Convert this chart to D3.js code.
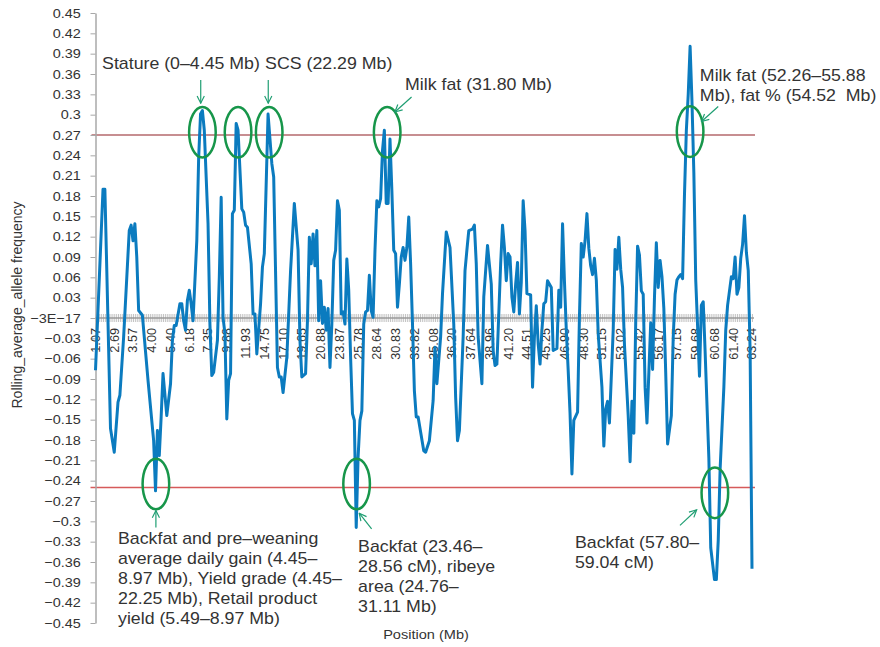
<!DOCTYPE html>
<html lang="en">
<head>
<meta charset="UTF-8">
<title>Rolling average allele frequency</title>
<script src="https://cdn.jsdelivr.net/npm/d3@7"></script>
<style>
    body { margin: 0; background: #fff; }
    svg { display: block; font-family: "Liberation Sans", Arial, Helvetica, sans-serif; }
    text { fill: #333; }
</style>
</head>
<body>
<svg width="880" height="647"></svg>
<script>
// category axis: one tick per window, one label every 10 windows
const categoryCount = 351;
const labelEvery = 10;
const tickLabels = ["1.07", "2.69", "3.57", "4.00", "5.40", "6.18", "7.35", "9.88", "11.93", "14.75",
    "17.10", "19.65", "20.88", "23.87", "25.78", "28.64", "30.83", "33.82", "35.08", "36.20",
    "37.64", "38.96", "41.20", "44.51", "45.25", "46.90", "48.30", "51.15", "53.02", "55.42",
    "56.17", "57.15", "59.68", "60.68", "61.40", "63.24"];

const yTickLabels = ["0.45", "0.42", "0.39", "0.36", "0.33", "0.3", "0.27", "0.24", "0.21", "0.18",
    "0.15", "0.12", "0.09", "0.06", "0.03", "−3E−17", "−0.03", "−0.06", "−0.09", "−0.12",
    "−0.15", "−0.18", "−0.21", "−0.24", "−0.27", "−0.3", "−0.33", "−0.36", "−0.39", "−0.42", "−0.45"];

// line vertices: category index and rolling average allele frequency
const pointIdx = [0, 4, 5, 8, 10, 12, 13, 15, 18, 19, 20, 21, 22, 23, 25, 28, 31, 32, 33, 34, 35, 36, 38, 40, 41, 42, 43, 45, 46, 47, 48, 49, 50, 51, 52, 54, 55, 56, 57, 58, 60, 61, 62, 63, 65, 66, 67, 68, 69, 70, 71, 72, 73, 74, 75, 76, 78, 79, 80, 81, 83, 84, 85, 86, 88, 89, 90, 92, 94, 95, 97, 98, 99, 100, 102, 104, 106, 108, 109, 110, 112, 113,
    114, 115, 116, 117, 118, 119, 120, 121, 122, 123, 124, 125, 126, 127, 128, 129, 130, 131, 132, 133, 134, 135, 136, 137, 138, 139, 140, 141, 142, 143, 144, 145, 146, 147, 148, 149, 150, 151, 152, 153, 154, 155, 156, 157, 158, 159, 160, 161, 162, 163, 164, 165, 166, 167, 168, 169, 170, 171, 172, 175, 176, 178, 180, 181, 182, 184, 185, 187, 189, 191, 192, 193, 194, 196, 197, 198, 199, 201, 202, 203, 204, 206, 207, 208, 209, 211, 212, 213, 214,
    215, 216, 217, 218, 219, 220, 221, 222, 223, 224, 225, 226, 227, 228, 229, 230, 232, 233, 234, 235, 236, 237, 238, 239, 240, 241, 243, 244, 246, 247, 248, 249, 250, 251, 252, 253, 254, 255, 257, 258, 259, 260, 261, 262, 263, 264, 265, 266, 267, 268, 270, 271, 272, 273, 274, 276, 277, 278, 279, 280, 281, 282, 284, 285, 286, 287, 288, 289, 290, 291, 292, 293, 294, 295, 296, 297, 298, 299,
    300, 301, 302, 303, 304, 305, 307, 308, 309, 310, 311, 312, 313, 314, 315, 316, 317, 318, 319, 320, 321, 322, 323, 324, 325, 327, 328, 330, 331, 332, 333, 335, 336, 337, 338, 339, 340, 341, 342, 343, 344, 345, 346, 347, 348, 349, 350];
const freq = [-0.077, 0.19, 0.19, -0.163, -0.198, -0.124, -0.114, -0.028, 0.129, 0.137, 0.114, 0.139, 0.09, 0.011, 0.004, -0.092, -0.181, -0.255, -0.166, -0.203, -0.146, -0.082, -0.144, -0.097, -0.033, -0.011, -0.011, 0.021, 0.021, -0.004, -0.018, 0.026, 0.041, 0.021, -0.004, 0.114, 0.237, 0.301, 0.306, 0.277, 0.139, -0.009, -0.085, -0.08, -0.033, 0.06, 0.178, 0.001, -0.023, -0.149, -0.092, -0.082, 0.154, 0.159, 0.287, 0.277, 0.161, 0.156, 0.137, 0.134, 0.08, 0.006, 0.006, -0.053, 0.021, 0.075, 0.095, 0.301, 0.228, 0.208, -0.073, -0.087, -0.087, -0.11, -0.058, 0.07, 0.169, 0.1, -0.033, -0.087, -0.082, -0.004,
    0.119, 0.08, 0.124, 0.077, 0.129, -0.004, 0.055, -0.008, 0.016, -0.018, 0.014, -0.073, -0.009, 0.085, 0.1, 0.173, 0.159, 0.006, 0.009, -0.009, 0.087, 0.041, -0.058, -0.141, -0.151, -0.309, -0.205, -0.151, -0.137, -0.009, 0.009, 0.011, 0.063, 0.011, 0.001, 0.1, 0.173, 0.164, 0.176, 0.247, 0.277, 0.169, 0.169, 0.264, 0.188, 0.1, 0.095, 0.016, 0.05, 0.09, 0.104, 0.085, 0.104, 0.149, 0.08, -0.009, -0.107, -0.146, -0.146, -0.196, -0.198, -0.181, -0.122, -0.043, -0.097, -0.028, 0.036, 0.127, 0.104, -0.009, -0.117, -0.181, -0.166, -0.028, 0.07, 0.1, 0.129, 0.131, 0.137, 0.08, -0.028, -0.097, 0.031, 0.07, 0.107, 0.05, -0.048, -0.07, -0.068,
    0.006, 0.08, 0.137, 0.104, 0.055, 0.095, 0.09, 0.031, 0.009, 0.05, 0.082, 0.006, 0.053, 0.173, 0.129, 0.036, 0.034, -0.102, -0.028, 0.018, -0.038, -0.068, -0.018, 0.021, 0.024, 0.055, 0.045, -0.048, -0.045, 0.041, 0.016, 0.139, 0.055, -0.018, -0.077, -0.141, -0.23, -0.151, -0.139, 0.001, 0.11, 0.09, 0.114, 0.154, 0.103, 0.077, 0.064, 0.088, 0.056, -0.023, -0.102, -0.189, -0.134, -0.123, -0.155, -0.018, 0.101, 0.072, 0.119, 0.072, 0.045, -0.039, -0.144, -0.212, -0.123, -0.17, -0.007, 0.106, 0.093, 0.04, 0.035, -0.102, -0.155, -0.081, -0.007, -0.076, 0.03, 0.111,
    0.045, 0.085, 0.061, 0.014, -0.081, -0.186, -0.144, -0.028, 0.035, 0.056, 0.061, 0.064, 0.058, 0.182, 0.277, 0.33, 0.401, 0.319, 0.214, 0.056, -0.013, -0.086, 0.019, 0.024, -0.049, -0.207, -0.339, -0.386, -0.386, -0.328, -0.223, -0.102, -0.018, 0.019, 0.04, 0.061, 0.058, 0.09, 0.035, 0.045, 0.088, 0.109, 0.151, 0.097, 0.07, -0.049, -0.37];

// thresholds
const upperCut = 0.27;
const lowerCut = -0.25;

// green circles round the signals (category index, value)
const ringIdx = [57, 76, 92.6, 155.5, 317, 32.2, 139.2, 330.2];
const ringVal = [0.274, 0.274, 0.274, 0.274, 0.275, -0.245, -0.245, -0.258];

// arrows: from [idx, value] to [idx, value]
const arrowFrom = [[56.1, 0.351], [92.1, 0.351], [168.5, 0.326], [332, 0.312], [32.2, -0.309], [147.2, -0.311], [311.6, -0.306]];
const arrowTo = [[56.1, 0.317], [92.1, 0.317], [159.6, 0.304], [323.1, 0.29], [32.2, -0.284], [140.6, -0.288], [320.5, -0.283]];

// notes: lines, anchor (left edge idx, first baseline value)
const noteLines = [
    ["Stature (0–4.45 Mb)"],
    ["SCS (22.29 Mb)"],
    ["Milk fat (31.80 Mb)"],
    ["Milk fat (52.26–55.88", "Mb), fat % (54.52  Mb)"],
    ["Backfat and pre–weaning", "average daily gain (4.45–", "8.97 Mb), Yield grade (4.45–", "22.25 Mb), Retail product", "yield (5.49–8.97 Mb)"],
    ["Backfat (23.46–", "28.56 cM), ribeye", "area (24.76–", "31.11 Mb)"],
    ["Backfat (57.80–", "59.04 cM)"]
];
const noteIdx = [3.5, 90.4, 165, 322.2, 12, 140, 255.6];
const noteVal = [0.367, 0.367, 0.337, 0.349, -0.333, -0.345, -0.339];

const svg = d3.select("svg");
const plotLeft = 95.5, plotRight = 752, plotTop = 13, plotBottom = 623;

const x = d3.scaleLinear().domain([0, categoryCount - 1]).range([plotLeft, plotRight]);
const y = d3.scaleLinear().domain([-0.45, 0.45]).range([plotBottom, plotTop]);
const yTickValues = yTickLabels.map(s => parseFloat(s.replace(/−/g, "-")));

// threshold lines
svg.append("line")
    .attr("x1", plotLeft - 4).attr("x2", plotRight + 3)
    .attr("y1", y(upperCut)).attr("y2", y(upperCut))
    .attr("stroke", "#b4696d").attr("stroke-width", 1.5);
svg.append("line")
    .attr("x1", plotLeft - 5).attr("x2", plotRight + 3)
    .attr("y1", y(lowerCut)).attr("y2", y(lowerCut))
    .attr("stroke", "#d65a5a").attr("stroke-width", 1.5);

// y axis
const yAxis = svg.append("g")
    .attr("transform", `translate(${plotLeft},0)`)
    .call(d3.axisLeft(y).tickValues(yTickValues)
        .tickFormat((d, i) => yTickLabels[i])
        .tickSize(5).tickSizeOuter(0).tickPadding(8));
yAxis.select(".domain").attr("stroke", "#a8a8a8").attr("stroke-width", 1.5);
yAxis.selectAll(".tick line").attr("stroke", "#a8a8a8");
yAxis.selectAll(".tick text")
    .attr("font-size", 12.8)
    .attr("fill", "#333")
    .attr("transform", "scale(1.13,1)");

// category axis at zero, with crossing ticks on every window
const y0 = y(0);
const xAxis = svg.append("g")
    .attr("transform", `translate(0,${y0 - 4})`)
    .call(d3.axisBottom(x).tickValues(d3.range(categoryCount))
        .tickFormat("").tickSize(8).tickSizeOuter(0));
xAxis.select(".domain").remove();
xAxis.selectAll(".tick line").attr("stroke", "#b5b5b5").attr("stroke-width", 0.8);
svg.append("line")
    .attr("x1", plotLeft).attr("x2", plotRight + 2)
    .attr("y1", y0).attr("y2", y0)
    .attr("stroke", "#9a9a9a").attr("stroke-width", 1.5);

svg.append("g")
    .selectAll("text")
    .data(tickLabels)
    .join("text")
    .attr("transform", (d, i) => `translate(${x(i * labelEvery)},${y0 + 10}) rotate(-90)`)
    .attr("dy", "0.35em")
    .attr("text-anchor", "end")
    .attr("font-size", 12.7)
    .text(d => d);

// series
const line = d3.line()
    .x((d, i) => x(pointIdx[i]))
    .y(d => y(d));
svg.append("path")
    .datum(freq)
    .attr("d", line)
    .attr("fill", "none")
    .attr("stroke", "#0b7bbf")
    .attr("stroke-width", 3)
    .attr("stroke-linejoin", "round");

// rings
svg.append("g")
    .selectAll("ellipse")
    .data(ringIdx)
    .join("ellipse")
    .attr("cx", d => x(d))
    .attr("cy", (d, i) => y(ringVal[i]))
    .attr("rx", 13.3)
    .attr("ry", 25.3)
    .attr("fill", "none")
    .attr("stroke", "#17964a")
    .attr("stroke-width", 2.5);

// arrows
svg.append("defs").append("marker")
    .attr("id", "head")
    .attr("viewBox", "0 0 10 10")
    .attr("refX", 9).attr("refY", 5)
    .attr("markerWidth", 9).attr("markerHeight", 9)
    .attr("markerUnits", "userSpaceOnUse")
    .attr("orient", "auto")
    .append("path")
    .attr("d", "M1,1 L9,5 L1,9")
    .attr("fill", "none")
    .attr("stroke", "#1f9e72")
    .attr("stroke-width", 1.3);

svg.append("g")
    .selectAll("line")
    .data(arrowFrom)
    .join("line")
    .attr("x1", d => x(d[0])).attr("y1", d => y(d[1]))
    .attr("x2", (d, i) => x(arrowTo[i][0])).attr("y2", (d, i) => y(arrowTo[i][1]))
    .attr("stroke", "#1f9e72")
    .attr("stroke-width", 1.2)
    .attr("marker-end", "url(#head)");

// notes
noteLines.forEach((lines, k) => {
    const g = svg.append("g")
        .attr("transform", `translate(${x(noteIdx[k])},${y(noteVal[k])}) scale(1.11,1)`);
    g.selectAll("text")
        .data(lines)
        .join("text")
        .attr("y", (d, i) => i * 20)
        .attr("font-size", 16)
        .attr("fill", "#222")
        .style("white-space", "pre")
        .text(d => d);
});

// axis titles
svg.append("text")
    .attr("transform", "translate(22,305) rotate(-90)")
    .attr("text-anchor", "middle")
    .attr("font-size", 14)
    .text("Rolling_average_allele frequency");

svg.append("text")
    .attr("transform", "translate(426,639) scale(1.12,1)")
    .attr("text-anchor", "middle")
    .attr("font-size", 13)
    .text("Position (Mb)");
</script>
</body>
</html>
